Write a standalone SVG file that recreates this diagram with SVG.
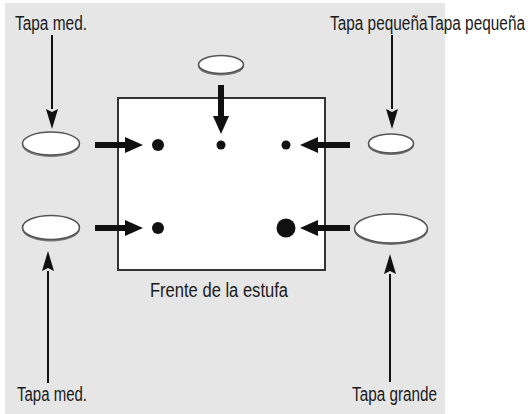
<svg xmlns="http://www.w3.org/2000/svg" width="531" height="414" viewBox="0 0 531 414">
  <style>
    .lbl { font-family: "Liberation Sans", Arial, sans-serif; font-size: 20px; fill: #1a1a1a; }
    .thin { stroke: #111; stroke-width: 2; fill: none; }
    .thick { stroke: #111; stroke-width: 6; fill: none; }
    .lid { fill: #fff; stroke: #555; stroke-width: 1.6; }
    .shadow { fill: #777; }
    .dot { fill: #111; }
  </style>
  <defs>
    <marker id="thinHead" markerUnits="userSpaceOnUse" viewBox="0 0 20 12" refX="0" refY="6" markerWidth="20" markerHeight="12" orient="auto">
      <path d="M0,0 L20,6 L0,12 L3,6 Z" fill="#111"/>
    </marker>
    <marker id="thickHead" markerUnits="userSpaceOnUse" viewBox="0 0 18 16" refX="0" refY="8" markerWidth="18" markerHeight="16" orient="auto">
      <path d="M0,0 L18,8 L0,16 Z" fill="#111"/>
    </marker>
  </defs>
  <rect x="0" y="0" width="531" height="414" fill="#fff"/>
  <rect x="5" y="3" width="440" height="411" fill="#e6e6e6"/>

  <g id="stove">
    <rect x="118" y="98" width="207" height="172" fill="#fff" stroke="#333" stroke-width="2"/>
    <circle class="dot" cx="158" cy="145" r="6"/>
    <circle class="dot" cx="221" cy="145" r="4.5"/>
    <circle class="dot" cx="286" cy="145" r="4.5"/>
    <circle class="dot" cx="158" cy="228" r="6"/>
    <circle class="dot" cx="286" cy="228" r="9.5"/>
    <text class="lbl" x="150" y="297" textLength="138" lengthAdjust="spacingAndGlyphs">Frente de la estufa</text>
  </g>

  <g id="lid-top-left">
    <ellipse class="shadow" cx="51" cy="145" rx="29" ry="12"/>
    <ellipse class="lid" cx="51" cy="143.5" rx="28.5" ry="11.5"/>
  </g>
  <g id="lid-bottom-left">
    <ellipse class="shadow" cx="51" cy="229" rx="29" ry="12.5"/>
    <ellipse class="lid" cx="51" cy="227.5" rx="28.5" ry="12"/>
  </g>
  <g id="lid-top-center">
    <ellipse class="shadow" cx="221" cy="66" rx="23" ry="9.5"/>
    <ellipse class="lid" cx="221" cy="64.5" rx="22.5" ry="9"/>
  </g>
  <g id="lid-top-right">
    <ellipse class="shadow" cx="391" cy="145" rx="23" ry="10"/>
    <ellipse class="lid" cx="391" cy="143.5" rx="22.5" ry="9.5"/>
  </g>
  <g id="lid-bottom-right">
    <ellipse class="shadow" cx="391" cy="230" rx="37" ry="15"/>
    <ellipse class="lid" cx="391" cy="228.5" rx="36.5" ry="14.5"/>
  </g>

  <g id="label-top-left"><text class="lbl" x="15" y="30" textLength="72" lengthAdjust="spacingAndGlyphs">Tapa med.</text></g>
  <g id="label-top-right"><text class="lbl" x="330" y="30" textLength="195" lengthAdjust="spacingAndGlyphs">Tapa pequeñaTapa pequeña</text></g>
  <g id="label-bottom-left"><text class="lbl" x="17" y="401" textLength="70" lengthAdjust="spacingAndGlyphs">Tapa med.</text></g>
  <g id="label-bottom-right"><text class="lbl" x="352" y="401" textLength="85" lengthAdjust="spacingAndGlyphs">Tapa grande</text></g>

  <g id="connectors">
    <line class="thin" x1="52" y1="35" x2="52" y2="109" marker-end="url(#thinHead)"/>
    <line class="thin" x1="392" y1="35" x2="392" y2="109" marker-end="url(#thinHead)"/>
    <line class="thin" x1="48" y1="383" x2="48" y2="271" marker-end="url(#thinHead)"/>
    <line class="thin" x1="390" y1="382" x2="390" y2="274" marker-end="url(#thinHead)"/>
    <line class="thick" x1="95" y1="145" x2="125" y2="145" marker-end="url(#thickHead)"/>
    <line class="thick" x1="350" y1="145" x2="318" y2="145" marker-end="url(#thickHead)"/>
    <line class="thick" x1="221" y1="85" x2="221" y2="116" marker-end="url(#thickHead)"/>
    <line class="thick" x1="95" y1="228" x2="125" y2="228" marker-end="url(#thickHead)"/>
    <line class="thick" x1="350" y1="228" x2="318" y2="228" marker-end="url(#thickHead)"/>
  </g>
</svg>
